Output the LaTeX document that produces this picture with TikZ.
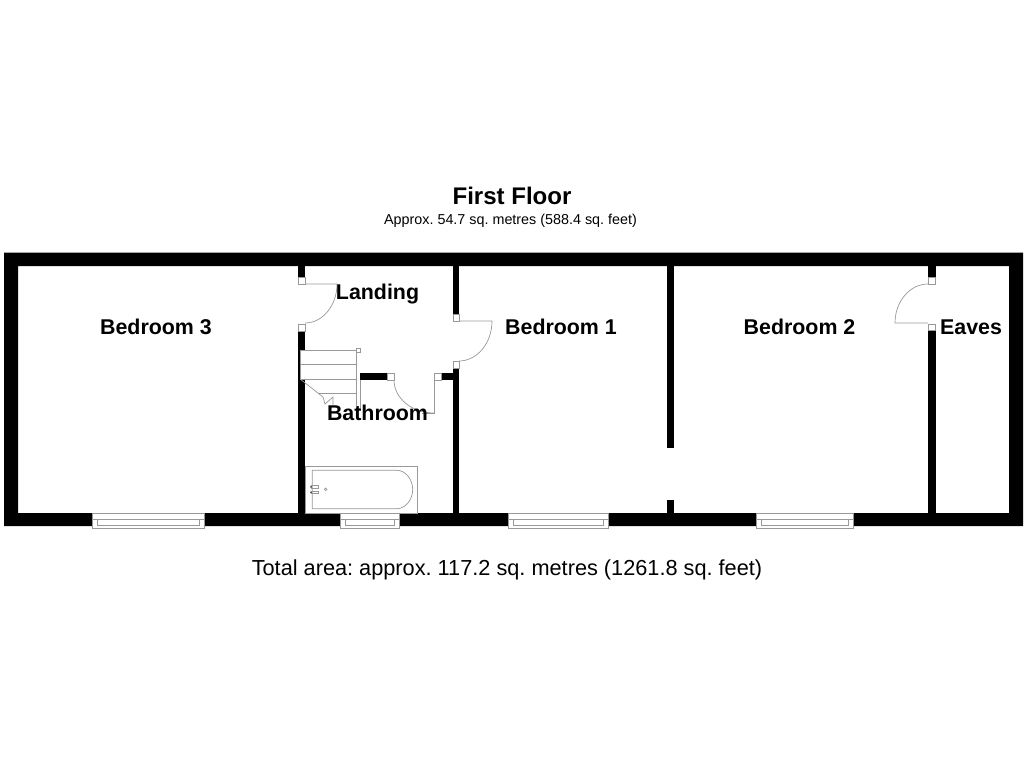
\documentclass[tikz,border=0pt]{standalone}
\usepackage{fontspec}
\setmainfont{Liberation Sans}
\usepackage{tikz}
\definecolor{plan}{gray}{0.6}
\tikzstyle{wall}=[fill=black, draw=none]
\tikzstyle{fitting}=[draw=plan, line width=0.5pt]
\tikzstyle{gap}=[draw=plan, fill=white, line width=0.5pt]
\tikzstyle{room}=[font=\fontsize{15.2}{18}\selectfont\bfseries, inner sep=0pt]
\frenchspacing

\begin{document}
\begin{tikzpicture}[x=0.025cm, y=-0.025cm]
\useasboundingbox (0,0) rectangle (1024,768);

\fill [wall, even odd rule] (4,252.5) rectangle (1023,526) (18,266) rectangle (1009,513);
\fill [wall] (298,266) rectangle (305,277);
\fill [wall] (298,331) rectangle (305,513);
\fill [wall] (453,266) rectangle (459,314);
\fill [wall] (453,368) rectangle (459,513);
\fill [wall] (360,373) rectangle (387,380);
\fill [wall] (441,373) rectangle (453,380);
\fill [wall] (667,266) rectangle (674,448);
\fill [wall] (667,500) rectangle (674,513);
\fill [wall] (928,266) rectangle (935.5,277);
\fill [wall] (928,330) rectangle (935.5,513);

\draw [gap] (298,277) rectangle (305,284);
\draw [gap] (298,324) rectangle (305,331);
\draw [gap] (453,314) rectangle (459,321);
\draw [gap] (453,361.5) rectangle (459,368);
\draw [gap] (387,373) rectangle (394,380);
\draw [gap] (434,373) rectangle (441,380);
\draw [gap] (928,277) rectangle (935.5,284);
\draw [gap] (928,324) rectangle (935.5,330);

\draw [fitting] (305,284) -- (337,284) .. controls (337,305.5) and (322.7,323) .. (305,323);
\draw [fitting] (459,321) -- (492,321) .. controls (492,343) and (477.2,361) .. (459,361);
\draw [fitting] (434,380) -- (434,413) -- (422,413);
\draw [fitting] (394,380) .. controls (394,398.2) and (412,413) .. (434,413);
\draw [fitting] (928,323) -- (895,323) .. controls (895,301.5) and (909.8,284) .. (928,284);

\draw [gap] (300,350) rectangle (356,379);
\draw [fitting] (300,364) -- (356,364);
\draw [fitting] (300,379) -- (323,397) -- (325,404) -- (333,397) -- (333,405);
\draw [fitting] (318,393) -- (356,393);
\draw [fitting] (356,350) -- (356,408) -- (360,408) -- (360,380);
\draw [gap] (356,348) rectangle (360,352);

\draw [gap] (305,466.7) rectangle (417.7,513);
\draw [fitting] (396.7,470.3) -- (312.3,470.3) -- (312.3,508.7) -- (396.7,508.7) .. controls (406,508.7) and (412.7,499) .. (412.7,489.5) .. controls (412.7,480) and (406,470.3) .. (396.7,470.3);
\draw [fitting] (311,485.7) rectangle (318,488);
\draw [fitting] (311,491.2) rectangle (318,493.7);
\fill [black!70] (311,486.8) circle [radius=1];
\fill [black!70] (311,492.4) circle [radius=1];
\draw [fitting] (325.7,489.3) circle [radius=1.3];

\draw [gap] (92,513) rectangle (204,528);
\draw [fitting] (92,519.5) -- (204,519.5);
\draw [fitting] (97.5,519.5) rectangle (199.5,525);
\draw [gap] (340.5,513) rectangle (399.5,528);
\draw [fitting] (340.5,519.5) -- (399.5,519.5);
\draw [fitting] (345.7,519.5) rectangle (394,525);
\draw [gap] (508,513) rectangle (608,528);
\draw [fitting] (508,519.5) -- (608,519.5);
\draw [fitting] (513,519.5) rectangle (603,525);
\draw [gap] (756.7,513) rectangle (853,528);
\draw [fitting] (756.7,519.5) -- (853,519.5);
\draw [fitting] (761.7,519.5) rectangle (848,525);

\node [room] (bed3) at (156,326.5) {Bedroom 3};
\node [room] (landing) at (377.5,294) {Landing};
\node [room] (bathroom) at (377.5,413) {Bathroom};
\node [room] (bed1) at (561,326.5) {Bedroom 1};
\node [room] (bed2) at (799.5,326.5) {Bedroom 2};
\node [room] (eaves) at (971,327) {Eaves};

\node [font=\fontsize{17.1}{20}\selectfont\bfseries, inner sep=0pt] (floor) at (512,196) {First Floor};
\node [font=\fontsize{10.2}{12}\selectfont, inner sep=0pt] (floorarea) at (510.5,220.5) {Approx. 54.7 sq. metres (588.4 sq. feet)};
\node [font=\fontsize{15.45}{18}\selectfont, inner sep=0pt] (totalarea) at (507,569.5) {Total area: approx. 117.2 sq. metres (1261.8 sq. feet)};
\end{tikzpicture}
\end{document}
